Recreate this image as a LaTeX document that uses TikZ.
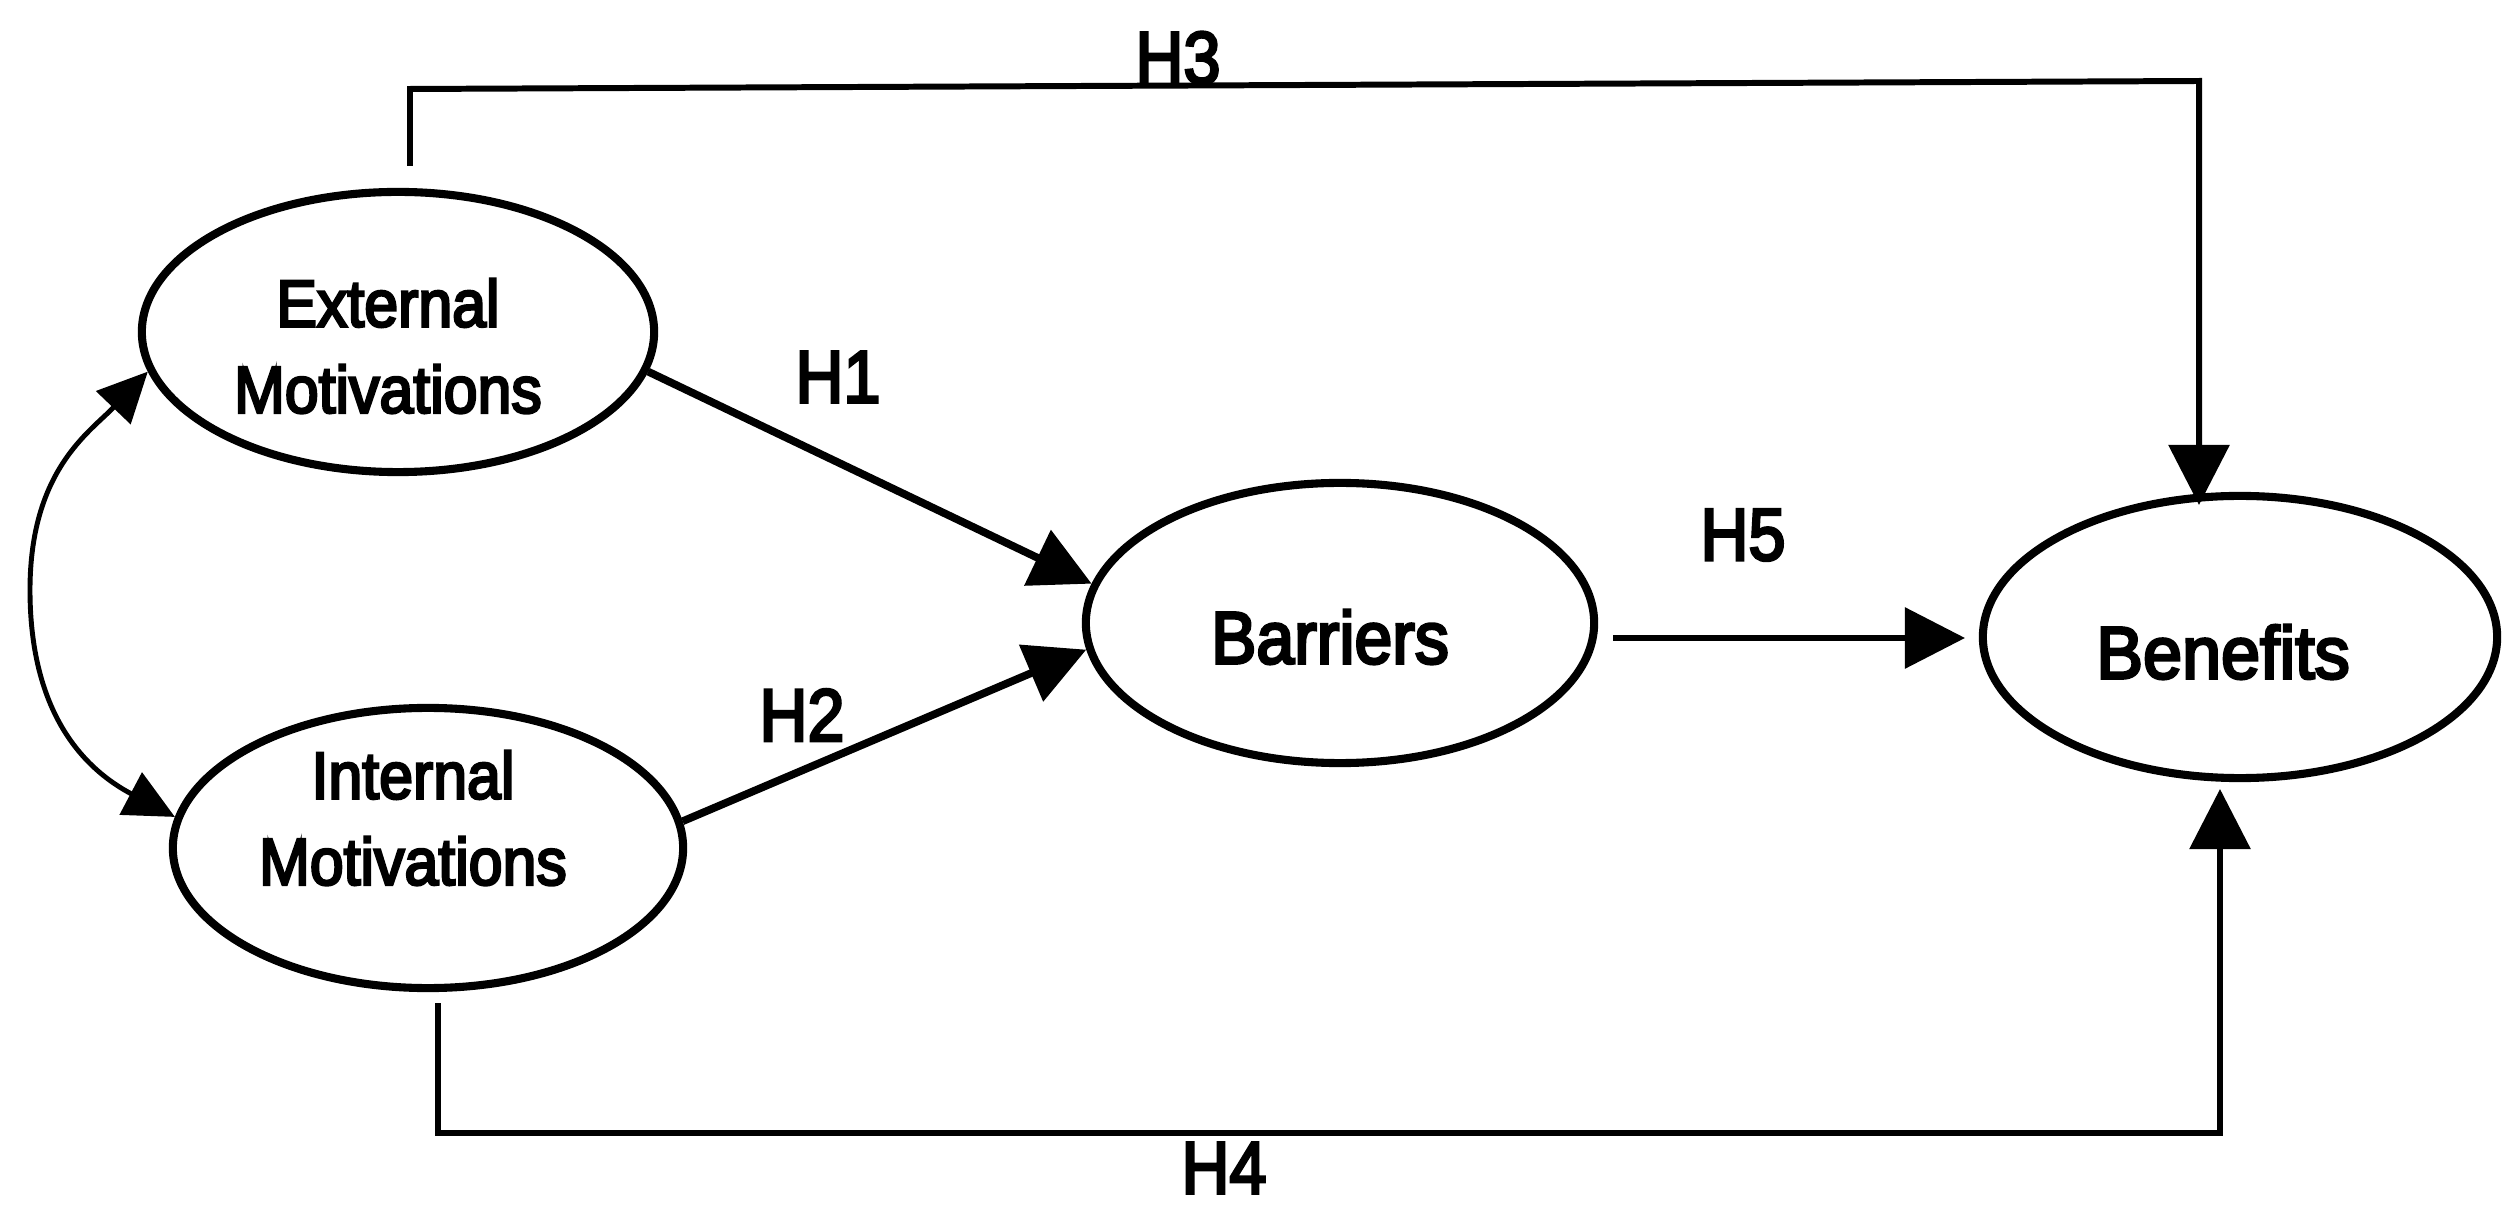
\documentclass[tikz,border=0pt]{standalone}
\usepackage{fontspec}
\usepackage{graphicx}
\setmainfont{Liberation Sans}
\newfontfamily\heavysans[FakeBold=4]{Liberation Sans}
\usetikzlibrary{shapes.geometric,arrows.meta}
\newcommand{\narrowtxt}[1]{\scalebox{0.92}[1]{#1}}
\begin{document}
\begin{tikzpicture}[x=0.01cm,y=-0.01cm,
  latent/.style={ellipse,draw,line width=2.3pt,inner sep=0pt},
  mottext/.style={font=\heavysans\fontsize{18.8}{24.5}\selectfont,align=center,inner sep=0pt},
  bigtext/.style={font=\heavysans\fontsize{21}{24}\selectfont,inner sep=0pt},
  hlab/.style={font=\heavysans\fontsize{21}{24}\selectfont,inner sep=0pt},
  conn/.style={line width=1.7pt,-{Triangle[length=0.6cm,width=0.6cm]}},
  thickconn/.style={line width=2.2pt,-{Triangle[length=0.6cm,width=0.6cm]}},
  curveconn/.style={line width=1.4pt,{Triangle[length=0.5cm,width=0.47cm]}-{Triangle[length=0.5cm,width=0.47cm]}}
]
\useasboundingbox (0,0) rectangle (2515,1216);

% ellipses
\node[latent,minimum width=5.12cm,minimum height=2.8cm] (ext) at (398,332) {};
\node[latent,minimum width=5.1cm,minimum height=2.8cm] (int) at (428,848) {};
\node[latent,minimum width=5.08cm,minimum height=2.8cm] (bar) at (1340,623) {};
\node[latent,minimum width=5.14cm,minimum height=2.82cm] (ben) at (2240,637) {};

% ellipse texts
\node[mottext] (extt) at (388,346) {\narrowtxt{External}\\\narrowtxt{Motivations}};
\node[mottext] (intt) at (413,818) {\narrowtxt{Internal}\\\narrowtxt{Motivations}};
\node[bigtext] (bart) at (1330,637) {\narrowtxt{Barriers}};
\node[bigtext] (bent) at (2223,652) {\scalebox{0.95}[1]{Benefits}};

% H1, H2
\draw[thickconn] (ext.-9) -- (bar.171);
\draw[thickconn] (int.6) -- (bar.186);

% correlation curve
\draw[curveconn] (ext.189) .. controls (90,432) and (30,470) .. (30,590)
  .. controls (30,700) and (73,763) .. (int.173);

% H3
\coordinate (h3a) at (410,166);
\coordinate (h3top) at (410,89);
\coordinate (h3right) at (2199,81);
\coordinate (h3b) at (2199,505);
\draw[conn] (h3a) -- (h3top) -- (h3right) -- (h3b);

% H4
\coordinate (h4a) at (438,1003);
\coordinate (h4bot) at (438,1133);
\coordinate (h4b) at (2220,789);
\draw[conn] (h4a) -- (h4bot) -| (h4b);

% H5
\coordinate (h5a) at (1613,638);
\coordinate (h5b) at (1965,638);
\draw[conn] (h5a) -- (h5b);

% labels
\node[hlab] (l1) at (838,377) {\scalebox{0.9}[1]{H1}};
\node[hlab] (l2) at (802,715) {\scalebox{0.9}[1]{H2}};
\node[hlab] (l3) at (1178,58) {\scalebox{0.9}[1]{H3}};
\node[hlab] (l4) at (1224,1168) {\scalebox{0.9}[1]{H4}};
\node[hlab] (l5) at (1743,535) {\scalebox{0.9}[1]{H5}};
\end{tikzpicture}
\end{document}
